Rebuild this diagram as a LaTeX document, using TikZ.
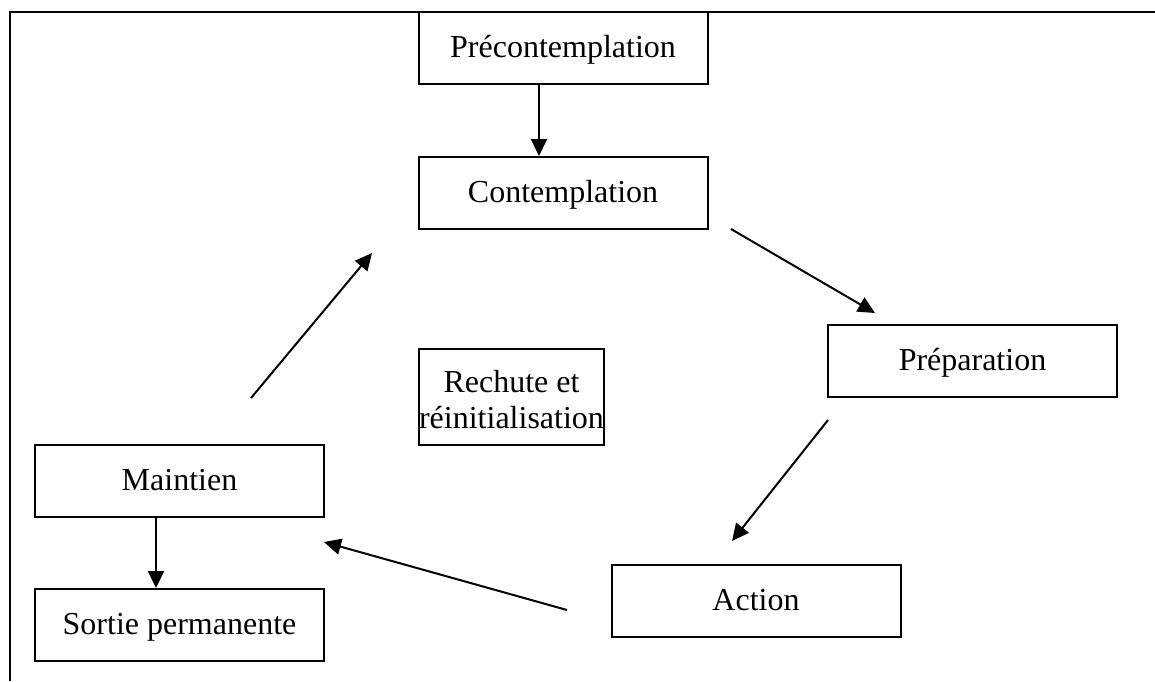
\documentclass[tikz,border=0pt]{standalone}
\usepackage{fontspec}
\setmainfont{Liberation Serif}
\usetikzlibrary{arrows.meta}
\begin{document}
\begin{tikzpicture}[x=1pt,y=-1pt,
  stage/.style={draw=black, line width=2pt, rectangle, inner sep=0pt,
    minimum width=289pt, minimum height=72pt,
    font=\fontsize{32}{36}\selectfont, text height=22pt, text depth=3pt},
  txt/.style={inner sep=0pt, font=\fontsize{32}{36}\selectfont, align=center},
  arr/.style={line width=2pt, -{Triangle[length=17pt,width=16pt]}},
  frame/.style={line width=2.8pt}]
\useasboundingbox (0,0) rectangle (1155,681);
% outer frame (top and left edges)
\coordinate (fa) at (10,681);
\coordinate (fb) at (10,12);
\coordinate (fc) at (1155,12);
\draw[frame] (fa) -- (fb) -- (fc);
% stages
\node[stage] (pre) at (563,48) {Précontemplation};
\node[stage] (con) at (563,193) {Contemplation};
\node[stage] (prep) at (972.5,361) {Préparation};
\node[stage] (act) at (756,601) {Action};
\node[stage] (main) at (179.5,481) {Maintien};
\node[stage] (sort) at (179.5,625) {Sortie permanente};
\node[stage, minimum width=185pt, minimum height=96pt] (rech) at (511.5,397) {};
\node[txt] (rechtxt) at (511.5,400) {Rechute et\\réinitialisation};
% vertical arrows
\draw[arr] ([xshift=-24pt]pre.south) -- ([xshift=-24pt]con.north);
\draw[arr] ([xshift=-23.5pt]main.south) -- ([xshift=-23.5pt]sort.north);
% cycle arrows (free-floating)
\coordinate (m1) at (251,398);
\coordinate (m2) at (372,253);
\coordinate (c1) at (731,229);
\coordinate (c2) at (875,313);
\coordinate (p1) at (828,420);
\coordinate (p2) at (732,541);
\coordinate (a1) at (567,610);
\coordinate (a2) at (324,542);
\draw[arr] (m1) -- (m2);
\draw[arr] (c1) -- (c2);
\draw[arr] (p1) -- (p2);
\draw[arr] (a1) -- (a2);
\end{tikzpicture}
\end{document}
